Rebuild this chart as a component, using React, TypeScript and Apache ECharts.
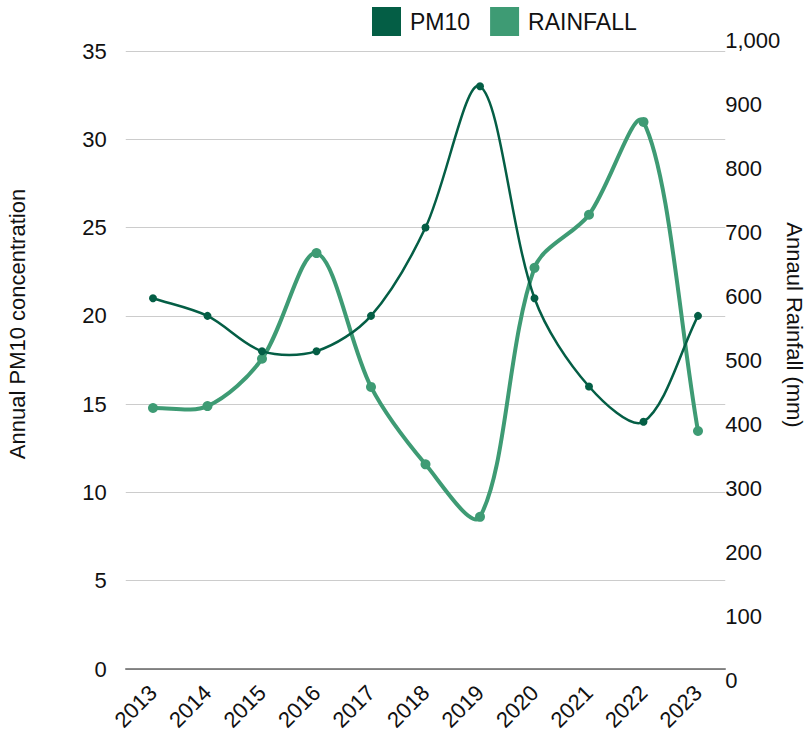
import React, { useEffect, useRef } from "react";
import * as echarts from "echarts";

const years = ["2013", "2014", "2015", "2016", "2017", "2018", "2019", "2020", "2021", "2022", "2023"];
const pm10 = [21, 20, 18, 18, 20, 25, 33, 21, 16, 14, 20];
const rainfall = [425, 428, 502, 667, 458, 337, 255, 644, 727, 872, 389];
const pm10Ticks = { min: 0, max: 35, interval: 5 };
const rainTicks = { min: 0, max: 1000, interval: 100 };

const PM_COLOR = "#045e45";
const RAIN_COLOR = "#3e9b74";
const FONT = "Liberation Sans, Arial, sans-serif";
const TENSION = 0.32;

function splinePath(pts: number[][], t: number): string {
  const n = pts.length;
  const cps: { p: number[]; n: number[] }[] = [];
  for (let i = 0; i < n; i++) {
    const prev = pts[Math.max(0, i - 1)];
    const cur = pts[i];
    const next = pts[Math.min(n - 1, i + 1)];
    const d01 = Math.hypot(cur[0] - prev[0], cur[1] - prev[1]);
    const d12 = Math.hypot(next[0] - cur[0], next[1] - cur[1]);
    let s01 = d01 / (d01 + d12);
    let s12 = d12 / (d01 + d12);
    if (!isFinite(s01)) s01 = 0;
    if (!isFinite(s12)) s12 = 0;
    const fa = t * s01;
    const fb = t * s12;
    cps.push({
      p: [cur[0] - fa * (next[0] - prev[0]), cur[1] - fa * (next[1] - prev[1])],
      n: [cur[0] + fb * (next[0] - prev[0]), cur[1] + fb * (next[1] - prev[1])],
    });
  }
  let d = `M${pts[0][0]},${pts[0][1]}`;
  for (let i = 1; i < n; i++) {
    const c1 = cps[i - 1].n;
    const c2 = cps[i].p;
    d += ` C${c1[0]},${c1[1]} ${c2[0]},${c2[1]} ${pts[i][0]},${pts[i][1]}`;
  }
  return d;
}

function curveRenderer(values: number[], color: string, width: number) {
  return (params: any, api: any) => {
    if (params.dataIndex !== 0) return null;
    const pts = values.map((v, i) => api.coord([i, v]));
    return {
      type: "path",
      shape: { pathData: splinePath(pts, TENSION) },
      style: { stroke: color, lineWidth: width, fill: "none", lineCap: "round", lineJoin: "round" },
    };
  };
}

export default function App() {
  const ref = useRef<HTMLDivElement>(null);
  useEffect(() => {
    const chart = echarts.init(ref.current!, null, { renderer: "svg" });
    const gridLeft = 125.75;
    const gridRight = 807 - 725.25;
    chart.setOption({
      animation: false,
      backgroundColor: "#ffffff",
      textStyle: { fontFamily: FONT },
      legend: {
        left: 372,
        top: 7,
        padding: 0,
        itemWidth: 29,
        itemHeight: 29,
        itemGap: 20,
        icon: "rect",
        textStyle: { fontSize: 23, color: "#111", fontFamily: FONT, padding: [0, 0, 0, 4] },
        data: [
          { name: "PM10", itemStyle: { color: PM_COLOR } },
          { name: "RAINFALL", itemStyle: { color: RAIN_COLOR } },
        ],
      },
      grid: [
        { left: gridLeft, right: gridRight, top: 51, bottom: 738 - 669, containLabel: false },
        { left: gridLeft, right: gridRight, top: 40, bottom: 738 - 680, containLabel: false },
      ],
      xAxis: [
        {
          type: "category",
          gridIndex: 0,
          data: years,
          boundaryGap: true,
          axisLine: { show: true, lineStyle: { color: "#666", width: 1.5 } },
          axisTick: { show: false },
          axisLabel: { rotate: 45, fontSize: 22, color: "#111", margin: 20, fontFamily: FONT, interval: 0 },
        },
        {
          type: "category",
          gridIndex: 1,
          data: years,
          boundaryGap: true,
          show: false,
        },
      ],
      yAxis: [
        {
          type: "value",
          gridIndex: 0,
          position: "left",
          ...pm10Ticks,
          axisLine: { show: false },
          axisTick: { show: false },
          axisLabel: { fontSize: 22, color: "#111", margin: 19, fontFamily: FONT },
          splitLine: { show: true, lineStyle: { color: "#cccccc", width: 1 } },
        },
        {
          type: "value",
          gridIndex: 1,
          position: "right",
          ...rainTicks,
          axisLine: { show: false },
          axisTick: { show: false },
          axisLabel: {
            fontSize: 22,
            color: "#111",
            margin: 0,
            fontFamily: FONT,
            formatter: (v: number) => v.toLocaleString("en-US"),
          },
          splitLine: { show: false },
        },
      ],
      graphic: [
        {
          type: "text",
          x: 17,
          y: 324,
          rotation: Math.PI / 2,
          style: {
            text: "Annual PM10 concentration",
            fontSize: 22,
            fontFamily: FONT,
            fill: "#111",
            align: "center",
            verticalAlign: "middle",
          },
        },
        {
          type: "text",
          x: 794,
          y: 325,
          rotation: -Math.PI / 2,
          style: {
            text: "Annaul Rainfall (mm)",
            fontSize: 22,
            fontFamily: FONT,
            fill: "#111",
            align: "center",
            verticalAlign: "middle",
          },
        },
      ],
      series: [
        {
          name: "RAINFALL",
          type: "custom",
          xAxisIndex: 1,
          yAxisIndex: 1,
          data: [[0, rainfall[0]]],
          renderItem: curveRenderer(rainfall, RAIN_COLOR, 4),
          silent: true,
          z: 1,
        },
        {
          name: "RAINFALL",
          type: "line",
          xAxisIndex: 1,
          yAxisIndex: 1,
          data: rainfall,
          symbol: "circle",
          symbolSize: 10,
          itemStyle: { color: RAIN_COLOR },
          lineStyle: { opacity: 0 },
          z: 2,
        },
        {
          name: "PM10",
          type: "custom",
          xAxisIndex: 0,
          yAxisIndex: 0,
          data: [[0, pm10[0]]],
          renderItem: curveRenderer(pm10, PM_COLOR, 2.5),
          silent: true,
          z: 3,
        },
        {
          name: "PM10",
          type: "line",
          xAxisIndex: 0,
          yAxisIndex: 0,
          data: pm10,
          symbol: "circle",
          symbolSize: 8,
          itemStyle: { color: PM_COLOR },
          lineStyle: { opacity: 0 },
          z: 4,
        },
      ],
    });
    return () => chart.dispose();
  }, []);
  return <div ref={ref} style={{ width: 807, height: 738, position: "absolute", left: 0, top: 0 }} />;
}
